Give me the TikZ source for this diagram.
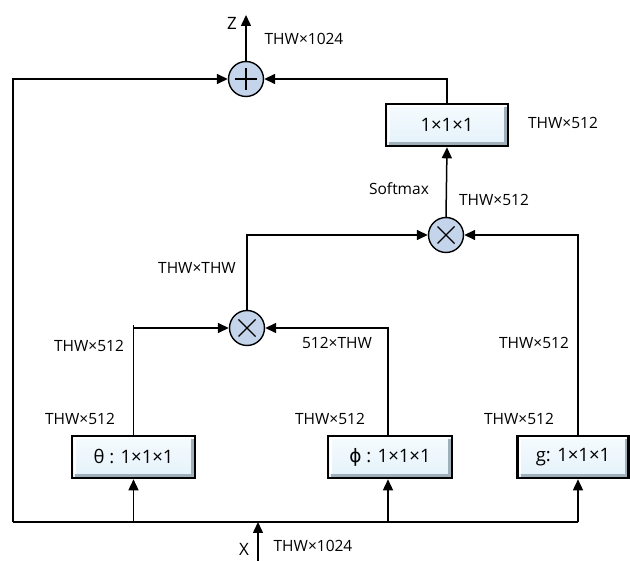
\documentclass[tikz,border=0pt]{standalone}
\usepackage{fontspec}
\setmainfont{Open Sans}
\newfontfamily\dejavu{DejaVu Sans}
\usetikzlibrary{arrows.meta,calc}
\definecolor{boxfill}{HTML}{E4F2FA}
\definecolor{boxtop}{HTML}{F6FBFE}
\definecolor{circfill}{HTML}{C4D5EB}
\definecolor{bevel}{HTML}{9FB0BA}
\begin{document}
\begin{tikzpicture}[x=1pt,y=-1pt,
  wire/.style={line width=1.5pt},
  arr/.style={wire,-{Triangle[length=11pt,width=10pt]}},
  lbl/.style={font=\fontsize{15.5}{18}\selectfont, inner sep=0pt},
  convbox/.style={draw, line width=2.6pt, minimum width=#1, minimum height=42pt, inner sep=0pt,
     top color=boxtop, bottom color=boxfill, font=\fontsize{18.5}{21}\selectfont,
     path picture={
       \draw[line width=3pt, bevel]
         ([xshift=3pt,yshift=2.5pt]path picture bounding box.south west) --
         ([xshift=-2.5pt,yshift=2.5pt]path picture bounding box.south east) --
         ([xshift=-2.5pt,yshift=-3pt]path picture bounding box.north east);
       \draw[line width=2pt, white]
         ([xshift=2.5pt,yshift=4pt]path picture bounding box.south west) --
         ([xshift=2.5pt,yshift=-2.5pt]path picture bounding box.north west) --
         ([xshift=-4pt,yshift=-2.5pt]path picture bounding box.north east);
     }},
  opcirc/.style={circle, draw, line width=1.4pt, fill=circfill, minimum size=35pt, inner sep=0pt},
]
\useasboundingbox (0,0) rectangle (630,561);

% operator circles
\node[opcirc] (plus) at (246,79) {};
\draw[line width=1.4pt] ($(plus)+(-11,0)$) -- ($(plus)+(11,0)$) ($(plus)+(0,-11)$) -- ($(plus)+(0,11)$);
\node[opcirc] (mul2) at (446,235) {};
\draw[line width=1.4pt] ($(mul2)+(-8.5,-8.5)$) -- ($(mul2)+(8.5,8.5)$) ($(mul2)+(-8.5,8.5)$) -- ($(mul2)+(8.5,-8.5)$);
\node[opcirc] (mul1) at (247,328) {};
\draw[line width=1.4pt] ($(mul1)+(-8.5,-8.5)$) -- ($(mul1)+(8.5,8.5)$) ($(mul1)+(-8.5,8.5)$) -- ($(mul1)+(8.5,-8.5)$);

% boxes
\node[convbox=122pt] (conv) at (447,125) {1×1×1};
\node[convbox=123pt] (theta) at (133.5,457) {θ : 1×1×1};
\node[convbox=124pt] (phi) at (390,457) {{\dejavu ϕ} : 1×1×1};
\node[convbox=111pt] (g) at (573,457) {g: 1×1×1};

% coordinates
\coordinate (zout) at (246,15);
\coordinate (xin) at (258,561);
\coordinate (xsplit) at (258,522);
\coordinate (bl) at (13,522);
\coordinate (br) at (578,522);
\coordinate (gtop) at (578,436);
\coordinate (phitop) at (388,436);

% connectors
\draw[arr] (xin) -- (xsplit);
\draw[wire] (bl) -- (br);
\draw[arr] (bl) |- (plus.west);
\draw[arr] (theta.south |- bl) -- (theta.south);
\draw[arr] (phitop |- bl) -- (phitop |- phi.south);
\draw[arr] (br) -- (br |- g.south);
\draw[arr] (plus.north) -- (zout);
\draw[arr] (conv.north) |- (plus.east);
\draw[arr] (mul2.north) -- (conv.south);
\draw[arr] (mul1.north) |- (mul2.west);
\draw[arr] (gtop) |- (mul2.east);
\draw[arr] (theta.north) |- (mul1.west);
\draw[wire] (theta.north |- mul1) -- ++(0,-3);
\draw[arr] (phitop) |- (mul1.east);

% labels
\node[font=\fontsize{17}{19}\selectfont, inner sep=0pt] (zl) at (232,23) {Z};
\node[font=\fontsize{17}{19}\selectfont, inner sep=0pt] (xl) at (244,549) {X};
\node[lbl] (l1) at (304,39) {THW×1024};
\node[lbl] (l2) at (313,546) {THW×1024};
\node[lbl] (l3) at (563,123) {THW×512};
\node[lbl] (l4) at (399,189) {Softmax};
\node[lbl] (l5) at (494,200) {THW×512};
\node[lbl] (l6) at (197,268) {THW×THW};
\node[lbl] (l7) at (89,346) {THW×512};
\node[lbl] (l8) at (337,343) {512×THW};
\node[lbl] (l9) at (534,343) {THW×512};
\node[lbl] (l10) at (80,419) {THW×512};
\node[lbl] (l11) at (330,419) {THW×512};
\node[lbl] (l12) at (519,419) {THW×512};
\end{tikzpicture}
\end{document}
